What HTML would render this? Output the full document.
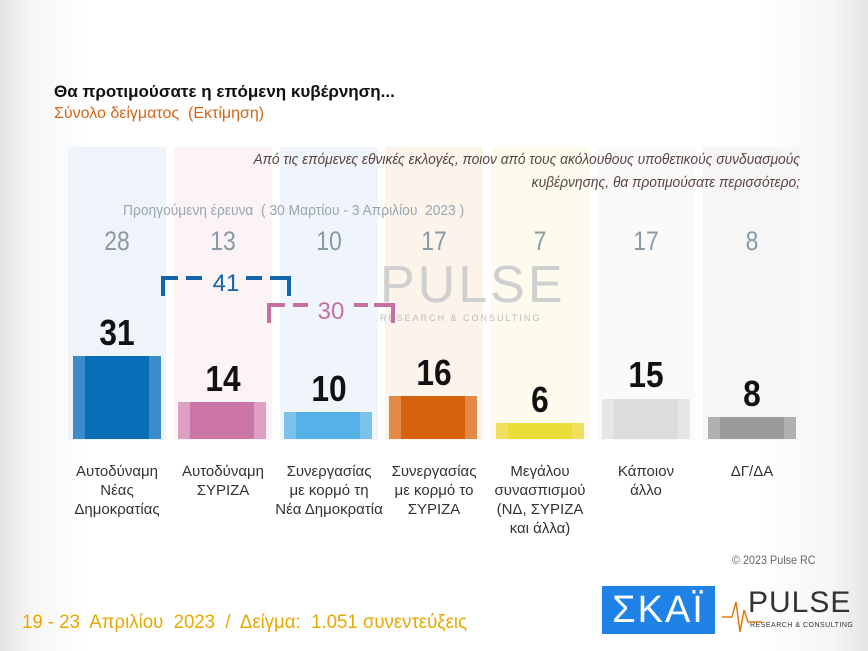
<!DOCTYPE html><html><head><meta charset="utf-8"><style>
*{margin:0;padding:0;box-sizing:border-box}
body{width:868px;height:651px;overflow:hidden;position:relative;font-family:"Liberation Sans",sans-serif;
background:linear-gradient(90deg,#e4e4e4 0,#f6f6f6 30px,#fff 90px,#fff 760px,#f6f6f6 830px,#e6e6e6 868px);}
.a{position:absolute}
.bg{position:absolute;top:147px;height:293px;width:98px}
.bar{position:absolute;width:88px;bottom:212px}
.bar i{position:absolute;left:12px;right:12px;top:0;bottom:0}
.prev{position:absolute;top:226px;width:98px;text-align:center;font-size:27px;color:#8a9aa5;transform:scaleX(0.85)}
.val{position:absolute;width:98px;text-align:center;font-size:36px;font-weight:bold;color:#111;transform:scaleX(0.88)}
.lab{position:absolute;top:462px;width:110px;text-align:center;font-size:15px;line-height:19px;color:#333}
</style></head><body>
<div class="a" style="left:54px;top:82px;font-size:17px;font-weight:bold;color:#111">Θα προτιμούσατε η επόμενη κυβέρνηση...</div>
<div class="a" style="left:54px;top:105px;font-size:16px;color:#d0661a">Σύνολο δείγματος&nbsp; (Εκτίμηση)</div>

<div class="bg" style="left:68px;background:#eef4fa"></div>
<div class="bg" style="left:174px;background:#fbf3f6"></div>
<div class="bg" style="left:280px;background:#f0f5fb"></div>
<div class="bg" style="left:385px;background:#fcf3ea"></div>
<div class="bg" style="left:491px;background:#fdfbee"></div>
<div class="bg" style="left:597px;background:#fafafa"></div>
<div class="bg" style="left:703px;background:#f6f6f7"></div>

<div class="a" style="left:100px;top:148px;width:700px;text-align:right;font-size:15px;line-height:23px;font-style:italic;color:#5a4540;transform:scaleX(0.92);transform-origin:right top">Από τις επόμενες εθνικές εκλογές, ποιον από τους ακόλουθους υποθετικούς συνδυασμούς<br>κυβέρνησης, θα προτιμούσατε περισσότερο;</div>
<div class="a" style="left:123px;top:202px;font-size:15px;color:#97a7b3;transform:scaleX(0.92);transform-origin:left top">Προηγούμενη έρευνα&nbsp; ( 30 Μαρτίου - 3 Απριλίου&nbsp; 2023 )</div>

<div class="prev" style="left:68px">28</div><div class="prev" style="left:174px">13</div><div class="prev" style="left:280px">10</div><div class="prev" style="left:385px">17</div><div class="prev" style="left:491px">7</div><div class="prev" style="left:597px">17</div><div class="prev" style="left:703px">8</div>

<div class="a" style="left:380px;top:255px;font-size:52px;color:#cfcfcf;letter-spacing:3px">PULSE</div>
<div class="a" style="left:380px;top:313px;font-size:9px;color:#bbb;letter-spacing:2px">RESEARCH &amp; CONSULTING</div>

<svg class="a" style="left:0;top:0" width="868" height="651">
<path d="M163 296 V278 H178 M186 278 H202 M246 278 H262 M270 278 H289 V296" fill="none" stroke="#1464aa" stroke-width="4"/>
<path d="M269 323 V305 H285 M293 305 H308 M354 305 H368 M374 305 H393 V323" fill="none" stroke="#c86fa2" stroke-width="4"/>
<text x="226" y="291" font-size="24" fill="#1464aa" text-anchor="middle" font-family="Liberation Sans">41</text>
<text x="331" y="319" font-size="24" fill="#c86fa2" text-anchor="middle" font-family="Liberation Sans">30</text>
</svg>

<div class="bar" style="left:73px;height:83px;background:#3a8ccb"><i style="background:#066fb8"></i></div>
<div class="bar" style="left:178px;height:37px;background:#dda0c2"><i style="background:#cc76a6"></i></div>
<div class="bar" style="left:284px;height:27px;background:#7cc0ec"><i style="background:#56b1e6"></i></div>
<div class="bar" style="left:389px;height:43px;background:#e28a45"><i style="background:#d6620d"></i></div>
<div class="bar" style="left:496px;height:16px;background:#f0e060"><i style="background:#ecdc3a"></i></div>
<div class="bar" style="left:602px;height:40px;background:#e6e6e6"><i style="background:#dcdcdc"></i></div>
<div class="bar" style="left:708px;height:22px;background:#b0b0b0"><i style="background:#9a9a9a"></i></div>

<div class="val" style="left:68px;top:312px">31</div>
<div class="val" style="left:174px;top:358px">14</div>
<div class="val" style="left:280px;top:368px">10</div>
<div class="val" style="left:385px;top:352px">16</div>
<div class="val" style="left:491px;top:379px">6</div>
<div class="val" style="left:597px;top:354px">15</div>
<div class="val" style="left:703px;top:373px">8</div>

<div class="lab" style="left:62px">Αυτοδύναμη<br>Νέας<br>Δημοκρατίας</div>
<div class="lab" style="left:168px">Αυτοδύναμη<br>ΣΥΡΙΖΑ</div>
<div class="lab" style="left:274px">Συνεργασίας<br>με κορμό τη<br>Νέα Δημοκρατία</div>
<div class="lab" style="left:379px">Συνεργασίας<br>με κορμό το<br>ΣΥΡΙΖΑ</div>
<div class="lab" style="left:485px">Μεγάλου<br>συνασπισμού<br>(ΝΔ, ΣΥΡΙΖΑ<br>και άλλα)</div>
<div class="lab" style="left:591px">Κάποιον<br>άλλο</div>
<div class="lab" style="left:697px">ΔΓ/ΔΑ</div>

<div class="a" style="left:732px;top:553px;font-size:12px;color:#666;transform:scaleX(0.9);transform-origin:left top">© 2023 Pulse RC</div>
<div class="a" style="left:22px;top:612px;font-size:19px;color:#e8a800;transform:scaleX(0.98);transform-origin:left top">19 - 23&nbsp; Απριλίου&nbsp; 2023&nbsp; /&nbsp; Δείγμα:&nbsp; 1.051 συνεντεύξεις</div>
<div class="a" style="left:602px;top:586px;width:113px;height:48px;background:#1e82e6;color:#fff;font-size:38px;text-align:center;line-height:48px;letter-spacing:2px">ΣΚΑΪ</div>
<div class="a" style="left:748px;top:586px;font-size:30px;color:#333;letter-spacing:1px">PULSE</div>
<div class="a" style="left:750px;top:622px;font-size:7px;color:#333;letter-spacing:0.5px">RESEARCH &amp; CONSULTING</div>
<svg class="a" style="left:722px;top:592px" width="40" height="50"><path d="M0 25 H10 L14 10 L18 40 L22 18 L26 30 H40" fill="none" stroke="#e07a10" stroke-width="1.5"/></svg>
</body></html>
